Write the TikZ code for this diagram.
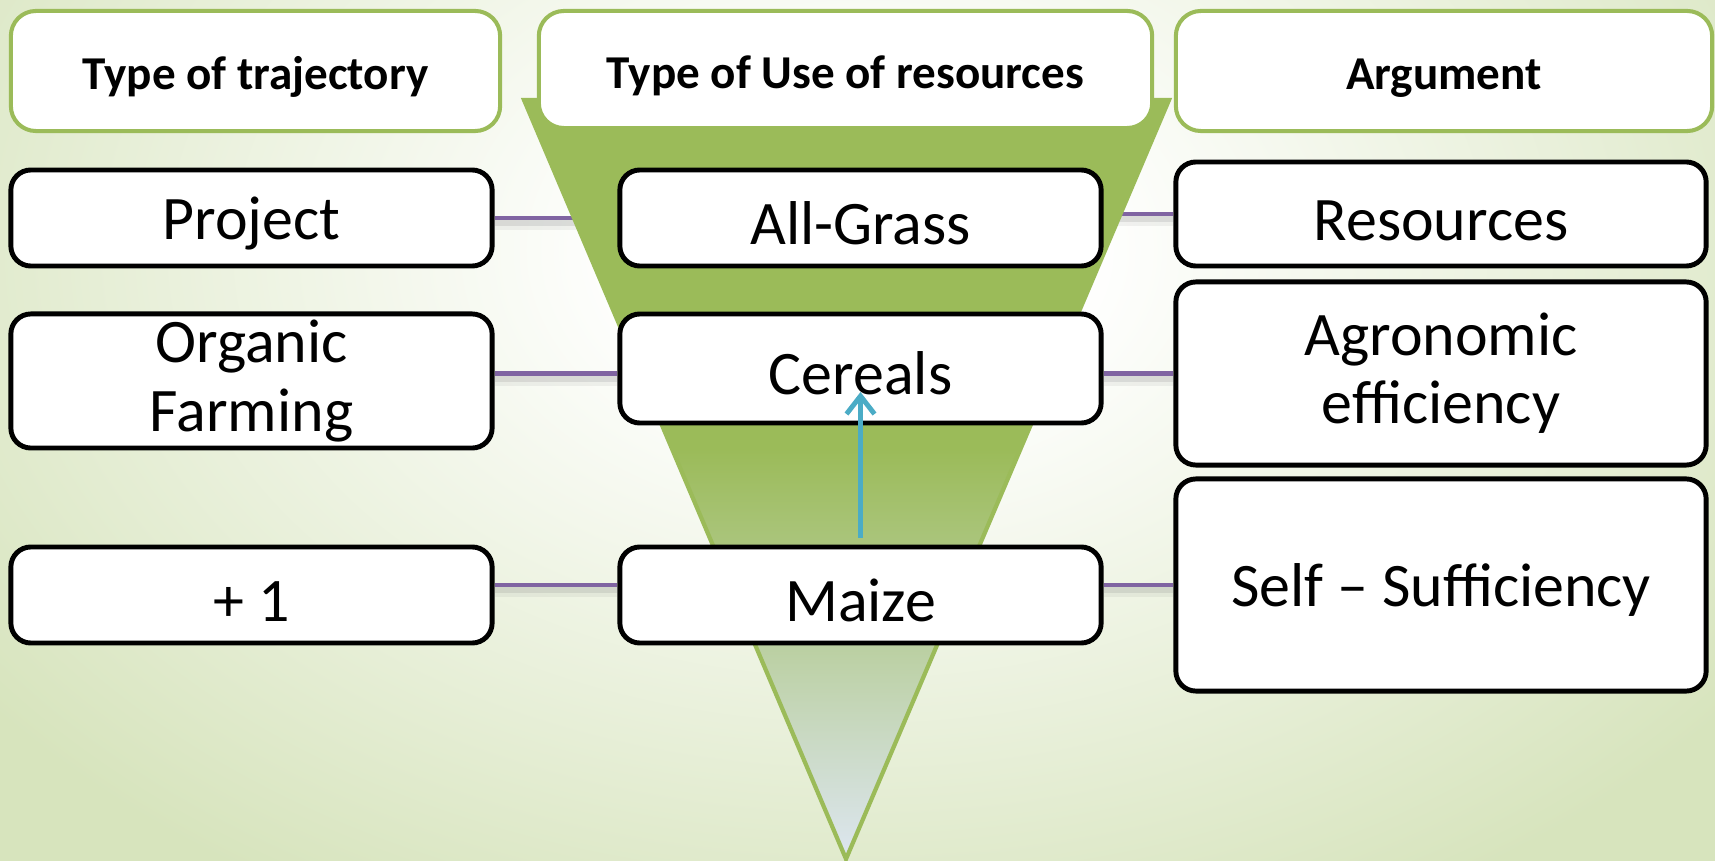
\documentclass[tikz,border=0pt]{standalone}
\usepackage{fontspec}
\setmainfont{Carlito}
\usetikzlibrary{arrows.meta}
\definecolor{fgreen}{HTML}{9BBB59}
\definecolor{lpurple}{HTML}{8064A2}
\definecolor{lblue}{HTML}{4BACC6}
\definecolor{bgG}{HTML}{D7E4BD}
\definecolor{tipc}{HTML}{DDE6F0}
\pgfdeclareradialshading{bgrad}{\pgfpoint{0bp}{0bp}}{color(0bp)=(white); color(5bp)=(white); color(25bp)=(bgG); color(75bp)=(bgG)}
\pgfdeclareverticalshading{funnelsh}{100bp}{color(0bp)=(tipc); color(25bp)=(tipc); color(52bp)=(fgreen); color(100bp)=(fgreen)}
\pgfdeclarelayer{bglayer}
\pgfdeclarelayer{midlayer}
\pgfsetlayers{bglayer,midlayer,main}
\tikzset{
  hdr/.style={draw=fgreen, line width=1.15pt, fill=white, rounded corners=0.25cm, inner sep=0pt,
    font=\fontsize{13.4}{16}\selectfont\bfseries, align=center,
    execute at begin node={\rule{0pt}{0.97em}}},
  rowbox/.style={draw=black, line width=1.4pt, fill=white, rounded corners=0.2cm, inner sep=0pt,
    font=\fontsize{17.6}{19.4}\selectfont, align=center},
  oneline/.style={execute at begin node={\rule{0pt}{0.86em}}},
  link/.style={draw=lpurple, line width=1.25pt},
  linkshadow/.style={draw=gray, line width=2.2pt, opacity=0.18},
  uparrow/.style={draw=lblue, line width=1.4pt, -{Straight Barb[length=0.18cm,width=0.28cm]}}
}
\begin{document}
\begin{tikzpicture}[x=0.01cm,y=-0.01cm]
\useasboundingbox (0,0) rectangle (1715,861);

% headers
\node[hdr, minimum width=4.89cm, minimum height=1.20cm] (hleft) at (255.5,71) {Type of trajectory};
\node[hdr, minimum width=6.13cm, minimum height=1.17cm] (hmid) at (845.5,69.5) {Type of Use of resources};
\node[hdr, minimum width=5.36cm, minimum height=1.20cm] (hright) at (1444,71) {Argument};

% row boxes
\node[rowbox, oneline, minimum width=4.81cm, minimum height=0.96cm] (project) at (251.5,218) {Project};
\node[rowbox, minimum width=4.81cm, minimum height=1.34cm] (organic) at (251.5,381) {Organic\\Farming};
\node[rowbox, oneline, minimum width=4.81cm, minimum height=0.96cm] (plus) at (251.5,595) {+ 1};
\node[rowbox, oneline, minimum width=4.81cm, minimum height=0.96cm] (allgrass) at (860.5,218) {All-Grass};
\node[rowbox, oneline, minimum width=4.81cm, minimum height=1.09cm] (cereals) at (860.5,368.5) {Cereals};
\node[rowbox, oneline, minimum width=4.81cm, minimum height=0.96cm] (maize) at (860.5,595) {Maize};
\node[rowbox, oneline, minimum width=5.30cm, minimum height=1.04cm] (resources) at (1441,214) {Resources};
\node[rowbox, minimum width=5.30cm, minimum height=1.83cm] (agro) at (1441,373.5) {Agronomic\\efficiency};
\node[rowbox, oneline, minimum width=5.30cm, minimum height=2.12cm] (self) at (1441,585) {Self -- Sufficiency};

\coordinate (arrtip) at (860.5,392);
\draw[uparrow, shorten <=0.07cm] (maize.north) -- (arrtip);

\begin{pgfonlayer}{bglayer}
  \begin{scope}
    \clip (0,0) rectangle (1715,861);
    \shade[shading=bgrad] (-240,-500) rectangle (1960,1000);
  \end{scope}
  % links with soft shadow
  \foreach \a/\b/\r in {project/allgrass/project, allgrass/resources/resources,
                        organic/cereals/agro, cereals/agro/agro, plus/maize/self, maize/self/self} {
    \draw[linkshadow, transform canvas={yshift=-0.045cm}] (\a.east |- \r.center) -- (\b.west |- \r.center);
    \draw[linkshadow, line width=3.6pt, opacity=0.1, transform canvas={yshift=-0.06cm}] (\a.east |- \r.center) -- (\b.west |- \r.center);
    \draw[link] (\a.east |- \r.center) -- (\b.west |- \r.center);
  }
\end{pgfonlayer}

\begin{pgfonlayer}{midlayer}
  \coordinate (ftl) at (524,100);
  \coordinate (ftr) at (1169,100);
  \coordinate (ftip) at (846,859);
  \shade[shading=funnelsh, draw=fgreen, line width=1.2pt, line join=miter] (ftl) -- (ftr) -- (ftip) -- cycle;
\end{pgfonlayer}
\end{tikzpicture}
\end{document}
